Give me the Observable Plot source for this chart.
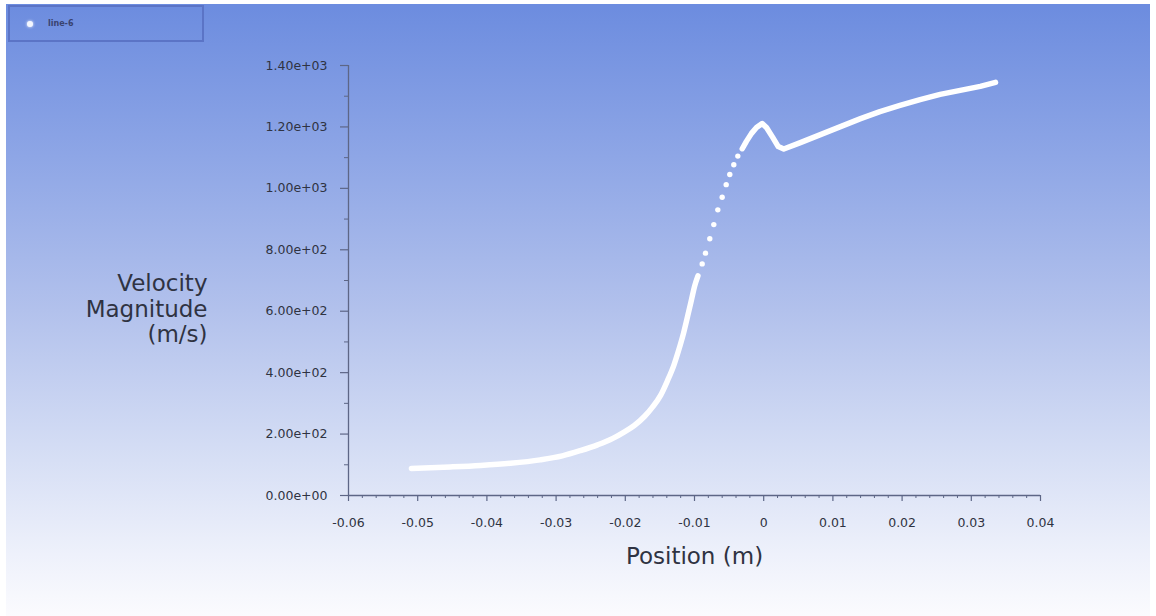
<!DOCTYPE html>
<html>
<head>
<meta charset="utf-8">
<script src="https://cdn.jsdelivr.net/npm/d3@7"></script>
<script src="https://cdn.jsdelivr.net/npm/@observablehq/plot@0.6"></script>
<style>
  html, body { margin: 0; padding: 0; background: #ffffff; width: 1156px; height: 616px; overflow: hidden; }
  #panel {
    position: absolute; left: 6px; top: 4px; width: 1144px; height: 612px;
    background: linear-gradient(to bottom, #6c8cdf 0%, #8ea6e6 25%, #b2c1ec 50%, #d3dcf4 72%, #eef1fb 90%, #fbfbfe 100%);
  }
  #legend {
    position: absolute; left: 2px; top: 1px; width: 196px; height: 37px;
    border: 2px solid #5b74c6; box-sizing: border-box;
    font-family: "DejaVu Sans", sans-serif; font-size: 8px; font-weight: bold; color: #3a4370;
  }
  #legend .dot { position: absolute; left: 17px; top: 14px; width: 6px; height: 6px; border-radius: 50%; background: #f4f7ff; box-shadow: 0 0 3px #ffffff; }
  #legend .lbl { position: absolute; left: 38px; top: 12px; }
  #chart { position: absolute; left: 0; top: 0; }
</style>
</head>
<body>
<div id="panel">
  <div id="legend"><div class="dot"></div><div class="lbl">line-6</div></div>
  <div id="chart"></div>
</div>
<script>
// ---- data ----
const xTicks = [-0.06, -0.05, -0.04, -0.03, -0.02, -0.01, 0, 0.01, 0.02, 0.03, 0.04];
const xTickLabels = ["-0.06", "-0.05", "-0.04", "-0.03", "-0.02", "-0.01", "0", "0.01", "0.02", "0.03", "0.04"];
const yTicks = [0, 200, 400, 600, 800, 1000, 1200, 1400];
const yTickLabels = ["0.00e+00", "2.00e+02", "4.00e+02", "6.00e+02", "8.00e+02", "1.00e+03", "1.20e+03", "1.40e+03"];
const yMinorTicks = [100, 300, 500, 700, 900, 1100, 1300];
const xMinorTicks = [-0.058,-0.056,-0.054,-0.052,-0.048,-0.046,-0.044,-0.042,-0.038,-0.036,-0.034,-0.032,-0.028,-0.026,-0.024,-0.022,-0.018,-0.016,-0.014,-0.012,-0.008,-0.006,-0.004,-0.002,0.002,0.004,0.006,0.008,0.012,0.014,0.016,0.018,0.022,0.024,0.026,0.028,0.032,0.034,0.036,0.038];

const seriesName = "line-6";
const xLabel = "Position (m)";
const yLabel = "Velocity\nMagnitude\n(m/s)";

// dense part before the steep rise
const lowerPosition = [-0.0509, -0.0453, -0.0409, -0.0366, -0.0323, -0.0291, -0.0265, -0.0240, -0.0218, -0.0203, -0.0187, -0.0172, -0.0161, -0.0149, -0.0139, -0.0130, -0.0123, -0.0116, -0.0110, -0.0104, -0.0100, -0.0095];
const lowerVelocity = [88, 93, 98, 105, 116, 129, 146, 165, 186, 205, 228, 258, 287, 326, 374, 423, 472, 527, 583, 641, 680, 715];
// sparse markers on the steep part
const sparsePosition = [-0.00889, -0.00841, -0.00779, -0.00721, -0.00663, -0.00600, -0.00542, -0.00490, -0.00432, -0.00374];
const sparseVelocity = [754, 789, 836, 882, 930, 971, 1012, 1045, 1077, 1105];
// dense part after, with the peak and dip
const upperPosition = [-0.0031, -0.0025, -0.00176, -0.00104, -0.00022, 0.0004, 0.0013, 0.0021, 0.0029, 0.0053, 0.0082, 0.0111, 0.0140, 0.0168, 0.0197, 0.0226, 0.0255, 0.0284, 0.0313, 0.0335];
const upperVelocity = [1129, 1153, 1179, 1198, 1211, 1198, 1166, 1136, 1128, 1149, 1175, 1201, 1227, 1250, 1270, 1289, 1306, 1319, 1332, 1345];

const toRows = (xs, ys) => xs.map((x, i) => ({x, y: ys[i]}));
const lower = toRows(lowerPosition, lowerVelocity);
const sparse = toRows(sparsePosition, sparseVelocity);
const upper = toRows(upperPosition, upperVelocity);

const axisColor = "#5d6686";
const textColor = "#2f3342";

const plot = Plot.plot({
  width: 1144,
  height: 612,
  marginLeft: 342,
  marginRight: 110,
  marginTop: 61,
  marginBottom: 121,
  style: { background: "transparent", fontFamily: "DejaVu Sans, sans-serif", overflow: "visible" },
  x: { domain: [-0.06, 0.04] },
  y: { domain: [0, 1400] },
  marks: [
    Plot.axisY({ ticks: yTicks, tickFormat: d => yTickLabels[yTicks.indexOf(d)], tickSize: 8, tickPadding: 13, fontSize: 12.5, fill: textColor, stroke: axisColor, strokeWidth: 1.2, label: null }),
    Plot.axisY({ ticks: yMinorTicks, tickFormat: null, text: null, tickSize: 4, stroke: axisColor, label: null }),
    Plot.axisX({ ticks: xTicks, tickFormat: d => xTickLabels[xTicks.indexOf(d)], tickSize: 6, tickPadding: 17, fontSize: 12.5, fill: textColor, stroke: axisColor, strokeWidth: 1.2, label: null }),
    Plot.axisX({ ticks: xMinorTicks, tickFormat: null, text: null, tickSize: 3, stroke: axisColor, label: null }),
    Plot.ruleX([-0.06], { y1: 0, y2: 1400, stroke: axisColor, strokeWidth: 1.3 }),
    Plot.ruleY([0], { stroke: axisColor, strokeWidth: 1.3 }),
    Plot.line(lower, { x: "x", y: "y", stroke: "#ffffff", strokeWidth: 5.5, strokeLinecap: "round", curve: "monotone-x" }),
    Plot.line(upper, { x: "x", y: "y", stroke: "#ffffff", strokeWidth: 5.5, strokeLinecap: "round", strokeLinejoin: "round", curve: "linear" }),
    Plot.dot(sparse, { x: "x", y: "y", r: 2.7, fill: "#ffffff", stroke: null }),
    Plot.text([xLabel], { frameAnchor: "bottom", lineAnchor: "middle", dy: 61, fontSize: 23, fill: textColor }),
    Plot.text([yLabel], { frameAnchor: "left", textAnchor: "end", lineAnchor: "middle", dx: -141, dy: 28, fontSize: 23, lineHeight: 1.09, fill: textColor })
  ]
});
document.getElementById("chart").appendChild(plot);
</script>
</body>
</html>
